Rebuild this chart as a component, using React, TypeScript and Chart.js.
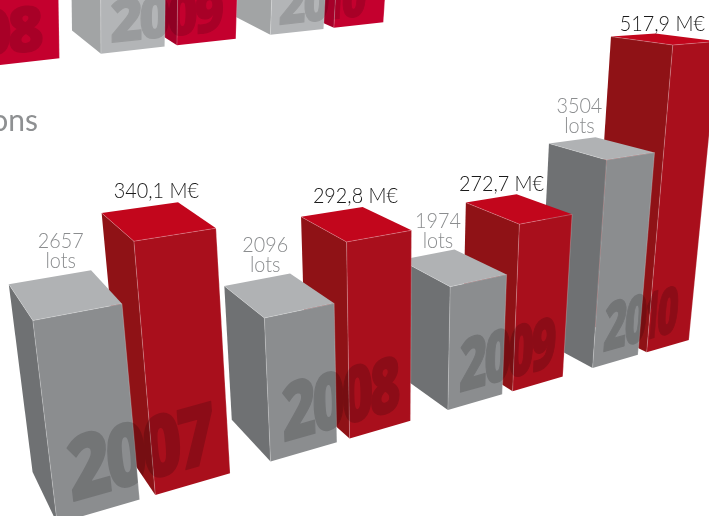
import React, { useEffect, useRef } from "react";
import { Chart, registerables } from "chart.js";

Chart.register(...registerables);

// Auction figures per year; the lower row carries the stated values.
const years = ["2007", "2008", "2009", "2010"];
const lots = [2657, 2096, 1974, 3504];
const turnover = [340.1, 292.8, 272.7, 517.9];
// The upper row runs off the top of the sheet, so only its feet show.
const upperLots = [2500, 2600, 2700, 2800];
const upperTurnover = [300, 320, 340, 360];

const LOTS_MAX = 6000;
const TURNOVER_MAX = 600;
const CANVAS_W = 709;
const CANVAS_H = 516;

// World units: one category step along the row, and height per M€.
const CATEGORY_STEP = 0.1127;
const WORLD_PER_MEUR = 0.000242;

type Pt = [number, number];
type Palette = { front: string; left: string; top: string };
type Row = {
  origin: Pt;
  vanishX: Pt;
  vanishY: Pt;
  vanishZ: Pt;
  depth: number;
  drift: number[];
  yearStart: number;
  yearZ: number;
  yearHeight: number;
  yearAlpha: number;
  gray: Palette;
  red: Palette;
};

const lowerRow: Row = {
  origin: [155.3, 495],
  vanishX: [2100, -70],
  vanishY: [-231, -78],
  vanishZ: [394, 3325],
  depth: 0.089,
  drift: [0, -0.0017, -0.0003, 0],
  yearStart: -0.039,
  yearZ: 0.0058,
  yearHeight: 0.0205,
  yearAlpha: 0.17,
  gray: { front: "#8b8d8f", left: "#6f7173", top: "#b0b2b4" },
  red: { front: "#a90f1c", left: "#8f1216", top: "#c2061c" },
};

const upperRow: Row = {
  origin: [-243, 91.9],
  vanishX: [2040, -162],
  vanishY: [-269, -243],
  vanishZ: [120, 4000],
  depth: 0.1,
  drift: [0, 0, 0, 0],
  yearStart: -0.041,
  yearZ: 0.003,
  yearHeight: 0.0125,
  yearAlpha: 0.14,
  gray: { front: "#b3b5b7", left: "#a2a4a5", top: "#c8cacb" },
  red: { front: "#c4002e", left: "#a60029", top: "#d4103c" },
};

// Label offsets from the centre of each bar's top face.
const lotLabelNudge: Pt[] = [[-3, -47], [-13, -43], [-15, -40], [-22, -35]];
const turnoverLabelNudge: Pt[] = [[-1, -23], [0, -21], [-17, -18], [-2, -8]];

function project(row: Row, X: number, Y: number, Z: number): Pt {
  const w = 1 + X + Y - Z;
  const hx = row.origin[0] + X * row.vanishX[0] + Y * row.vanishY[0] - Z * row.vanishZ[0];
  const hy = row.origin[1] + X * row.vanishX[1] + Y * row.vanishY[1] - Z * row.vanishZ[1];
  return [hx / w, hy / w];
}

function polygon(ctx: CanvasRenderingContext2D, pts: Pt[], fill: string) {
  ctx.beginPath();
  pts.forEach((p, i) => (i ? ctx.lineTo(p[0], p[1]) : ctx.moveTo(p[0], p[1])));
  ctx.closePath();
  ctx.fillStyle = fill;
  ctx.fill();
}

function edge(ctx: CanvasRenderingContext2D, a: Pt, b: Pt) {
  ctx.beginPath();
  ctx.moveTo(a[0], a[1]);
  ctx.lineTo(b[0], b[1]);
  ctx.strokeStyle = "rgba(255,255,255,0.32)";
  ctx.lineWidth = 0.7;
  ctx.stroke();
}

type Box = { x0: number; x1: number; h: number };

function corners(row: Row, b: Box) {
  const d = row.depth;
  return {
    frontBase: project(row, b.x0, 0, 0),
    rightBase: project(row, b.x1, 0, 0),
    leftBase: project(row, b.x0, d, 0),
    front: project(row, b.x0, 0, b.h),
    right: project(row, b.x1, 0, b.h),
    left: project(row, b.x0, d, b.h),
    back: project(row, b.x1, d, b.h),
  };
}

function drawBox(ctx: CanvasRenderingContext2D, row: Row, b: Box, colors: Palette) {
  const c = corners(row, b);
  polygon(ctx, [c.leftBase, c.frontBase, c.front, c.left], colors.left);
  polygon(ctx, [c.frontBase, c.rightBase, c.right, c.front], colors.front);
  polygon(ctx, [c.front, c.right, c.back, c.left], colors.top);
  edge(ctx, c.frontBase, c.front);
  edge(ctx, c.front, c.right);
  edge(ctx, c.front, c.left);
  edge(ctx, c.right, c.rightBase);
}

function silhouette(path: Path2D, row: Row, b: Box) {
  const c = corners(row, b);
  [c.frontBase, c.rightBase, c.right, c.back, c.left, c.leftBase].forEach((p, i) =>
    i ? path.lineTo(p[0], p[1]) : path.moveTo(p[0], p[1])
  );
  path.closePath();
}

// Year numerals lie on the front plane, set digit by digit so they follow the perspective.
function drawYear(
  ctx: CanvasRenderingContext2D,
  layer: HTMLCanvasElement,
  row: Row,
  year: string,
  startX: number,
  clip: Path2D
) {
  const l = layer.getContext("2d")!;
  l.setTransform(1, 0, 0, 1, 0, 0);
  l.clearRect(0, 0, layer.width, layer.height);
  l.font = "800 100px 'Open Sans'";
  l.fillStyle = "#000";
  l.strokeStyle = "#000";
  l.lineWidth = 2;
  l.lineJoin = "round";
  l.textBaseline = "alphabetic";
  const capHeight = 71;
  let X = startX;
  for (const digit of year) {
    const adv = digit === "1" ? 0.0115 : 0.0178;
    const spread = digit === "1" ? 1.1 : 1.14;
    const from = X - (adv * (spread - 1)) / 2;
    const o = project(row, from, 0, row.yearZ);
    const ex = project(row, from + adv * spread, 0, row.yearZ);
    const ey = project(row, from, 0, row.yearZ + row.yearHeight);
    const glyph = l.measureText(digit).width;
    if (ex[0] > 0) {
      l.setTransform(
        (ex[0] - o[0]) / glyph,
        (ex[1] - o[1]) / glyph,
        (o[0] - ey[0]) / capHeight,
        (o[1] - ey[1]) / capHeight,
        o[0],
        o[1]
      );
      l.fillText(digit, 0, 0);
      l.strokeText(digit, 0, 0);
    }
    X += adv;
  }
  ctx.save();
  ctx.clip(clip);
  ctx.globalAlpha = row.yearAlpha;
  ctx.drawImage(layer, 0, 0);
  ctx.restore();
}

// Light face of the caption type is narrower than the fonts at hand.
function narrowText(ctx: CanvasRenderingContext2D, text: string, x: number, y: number) {
  ctx.save();
  ctx.translate(x, y);
  ctx.scale(0.9, 1);
  ctx.fillText(text, 0, 0);
  ctx.restore();
}

const perspectiveBars = {
  id: "perspectiveBars",
  afterDatasetsDraw(chart: Chart) {
    const ctx = chart.ctx;
    const layer = document.createElement("canvas");
    layer.width = chart.width;
    layer.height = chart.height;

    const metas = [0, 1, 2, 3].map((i) => chart.getDatasetMeta(i).data as any[]);
    const ref = metas[1][0];
    const step = chart.scales.x.getPixelForValue(1) - chart.scales.x.getPixelForValue(0);
    const worldX = (px: number) => ((px - (ref.x - ref.width / 2)) / step) * CATEGORY_STEP;
    const worldZ = (bar: any) =>
      ((bar.base - bar.y) / chart.chartArea.height) * WORLD_PER_MEUR * TURNOVER_MAX;
    const box = (row: Row, bar: any, i: number): Box => ({
      x0: worldX(bar.x - bar.width / 2) + row.drift[i],
      x1: worldX(bar.x + bar.width / 2) + row.drift[i],
      h: worldZ(bar),
    });

    const rows: [Row, any[], any[]][] = [
      [upperRow, metas[2], metas[3]],
      [lowerRow, metas[0], metas[1]],
    ];

    rows.forEach(([row, grays, reds]) => {
      // Right-hand bars sit behind their left neighbours.
      for (let i = years.length - 1; i >= 0; i--) {
        drawBox(ctx, row, box(row, reds[i], i), row.red);
        drawBox(ctx, row, box(row, grays[i], i), row.gray);
      }
      for (let i = 0; i < years.length; i++) {
        if (row === upperRow && i === 0) continue;
        const clip = new Path2D();
        silhouette(clip, row, box(row, grays[i], i));
        silhouette(clip, row, box(row, reds[i], i));
        drawYear(ctx, layer, row, years[i], box(row, reds[i], i).x0 + row.yearStart, clip);
      }
    });

    // Value labels above the lower row.
    ctx.textAlign = "center";
    ctx.textBaseline = "alphabetic";
    for (let i = 0; i < years.length; i++) {
      const g = corners(lowerRow, box(lowerRow, metas[0][i], i));
      const gx = (g.left[0] + g.back[0] + g.right[0] + g.front[0]) / 4 + lotLabelNudge[i][0];
      const gy = (g.left[1] + g.back[1] + g.right[1] + g.front[1]) / 4 + lotLabelNudge[i][1];
      ctx.font = "300 22px Lato";
      ctx.fillStyle = "#8b8d8f";
      narrowText(ctx, String(lots[i]), gx, gy);
      narrowText(ctx, "lots", gx, gy + 20);

      const r = corners(lowerRow, box(lowerRow, metas[1][i], i));
      const rx = (r.left[0] + r.back[0] + r.right[0] + r.front[0]) / 4 + turnoverLabelNudge[i][0];
      const ry = (r.left[1] + r.back[1] + r.right[1] + r.front[1]) / 4 + turnoverLabelNudge[i][1];
      ctx.fillStyle = "#1a1a1a";
      narrowText(ctx, turnover[i].toFixed(1).replace(".", ",") + " M€", rx, ry);
    }

    ctx.font = "400 30px Lato";
    ctx.fillStyle = "#8e9092";
    ctx.textAlign = "right";
    ctx.fillText("ons", 38, 131);
  },
};

export default function App() {
  const canvasRef = useRef<HTMLCanvasElement>(null);

  useEffect(() => {
    const shared = { categoryPercentage: 0.852, barPercentage: 0.8333 };
    const hidden = "rgba(0,0,0,0)";
    const chart = new Chart(canvasRef.current!, {
      type: "bar",
      data: {
        labels: years,
        datasets: [
          { label: "lots", data: lots, yAxisID: "yLots", stack: "a", backgroundColor: hidden, ...shared },
          { label: "M€", data: turnover, yAxisID: "yTurnover", stack: "b", backgroundColor: hidden, ...shared },
          { label: "upper lots", data: upperLots, yAxisID: "yUpperLots", stack: "a", backgroundColor: hidden, ...shared },
          { label: "upper M€", data: upperTurnover, yAxisID: "yUpperTurnover", stack: "b", backgroundColor: hidden, ...shared },
        ],
      },
      options: {
        responsive: false,
        animation: false,
        layout: { padding: 0 },
        plugins: { legend: { display: false }, tooltip: { enabled: false } },
        scales: {
          x: { display: false },
          yLots: { display: false, min: 0, max: LOTS_MAX },
          yTurnover: { display: false, min: 0, max: TURNOVER_MAX },
          yUpperLots: { display: false, min: 0, max: LOTS_MAX },
          yUpperTurnover: { display: false, min: 0, max: TURNOVER_MAX },
        },
      },
      plugins: [perspectiveBars],
    } as any);
    return () => chart.destroy();
  }, []);

  return (
    <div style={{ position: "absolute", left: 0, top: 0, width: CANVAS_W, height: CANVAS_H, background: "#fff", overflow: "hidden" }}>
      <canvas ref={canvasRef} width={CANVAS_W} height={CANVAS_H} style={{ display: "block" }} />
    </div>
  );
}
